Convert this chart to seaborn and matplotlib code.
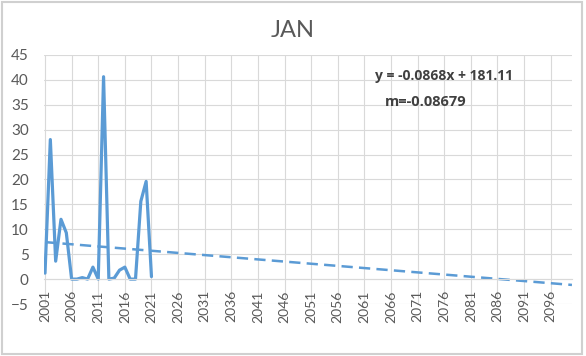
import numpy as np
import pandas as pd
import seaborn as sns
import matplotlib.pyplot as plt
from matplotlib.patches import Rectangle

# January values, 2001-2021
years = list(range(2001, 2022))
jan_values = [1.2, 28.0, 3.6, 12.0, 9.3, 0.0, 0.0, 0.3, 0.0, 2.4, 0.0,
              40.6, 0.0, 0.2, 1.8, 2.4, 0.0, 0.0, 15.6, 19.6, 0.5]

# linear trendline as shown on the chart
trend_slope = -0.0868
trend_intercept = 181.11
trend_years = list(range(2001, 2101))

tick_years = list(range(2001, 2100, 5))
y_ticks = list(range(-5, 50, 5))

blue = "#5B9BD5"
grey_text = "#595959"
grid_col = "#D9D9D9"

sns.set_theme(style="whitegrid")
plt.rcParams['font.family'] = ['Lato', 'DejaVu Sans']

df = pd.DataFrame({"year": years, "value": jan_values})
trend_df = pd.DataFrame({"year": trend_years})
trend_df["value"] = trend_slope * trend_df["year"] + trend_intercept

fig = plt.figure(figsize=(5.86, 3.56), dpi=100)
ax = fig.add_axes([0.075, 0.146, 0.901, 0.70])

sns.lineplot(data=df, x="year", y="value", ax=ax, color=blue, linewidth=2.3)
sns.lineplot(data=trend_df, x="year", y="value", ax=ax, color=blue,
             linewidth=1.8, linestyle=(0, (4.5, 2.5)))

# move the x axis to y=0 first, it resets the tick settings
for s in ["top", "right", "left"]:
    ax.spines[s].set_visible(False)
ax.spines["bottom"].set_position(("data", 0))
ax.spines["bottom"].set_color(grid_col)
ax.spines["bottom"].set_linewidth(0.8)

ax.set_xlim(2000.8, 2100)
ax.set_ylim(-5, 45)
ax.set_xticks(tick_years)
ax.set_xticklabels([str(t) for t in tick_years], rotation=90)
ax.set_yticks(y_ticks)
ax.set_xlabel("")
ax.set_ylabel("")
ax.grid(True, color=grid_col, linewidth=0.8)
ax.set_axisbelow(True)

ax.tick_params(axis="x", length=0, pad=8, labelsize=10, labelcolor=grey_text)
ax.tick_params(axis="y", length=0, pad=11, labelsize=11, labelcolor=grey_text)

fig.text(0.5, 0.915, "JAN", ha="center", va="center", fontsize=17,
         color=grey_text)
fig.text(375 / 586, 1 - 76 / 356, "y = -0.0868x + 181.11", ha="left",
         va="center", fontsize=10, fontweight="bold", color="#404040",
         family=["Open Sans", "DejaVu Sans"])
fig.text(385 / 586, 1 - 102 / 356, "m=-0.08679", ha="left", va="center",
         fontsize=10.5, fontweight="bold", color="#404040",
         family=["Open Sans", "DejaVu Sans"])

fig.patches.append(Rectangle((0.003, 0.005), 0.99, 0.99, transform=fig.transFigure,
                             fill=False, edgecolor="#D0D0D0", linewidth=1.5))

fig.savefig("out.png", dpi=100)
